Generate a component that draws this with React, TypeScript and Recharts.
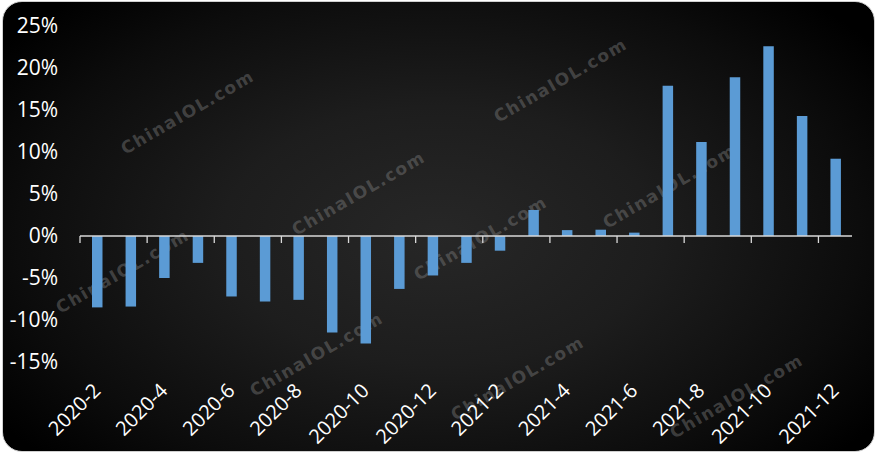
import React from 'react';
import { BarChart, Bar, XAxis, YAxis, ReferenceLine } from 'recharts';

const months = [
  '2020-2', '2020-3', '2020-4', '2020-5', '2020-6', '2020-7', '2020-8', '2020-9', '2020-10', '2020-11', '2020-12',
  '2021-1', '2021-2', '2021-3', '2021-4', '2021-5', '2021-6', '2021-7', '2021-8', '2021-9', '2021-10', '2021-11', '2021-12',
];
const growth = [
  -8.5, -8.4, -5.0, -3.2, -7.2, -7.8, -7.6, -11.5, -12.8, -6.3, -4.7,
  -3.2, -1.75, 3.1, 0.7, 0.75, 0.4, 17.9, 11.2, 18.9, 22.6, 14.3, 9.2,
];
const yTicks = [-15, -10, -5, 0, 5, 10, 15, 20, 25];
const watermarkText = 'ChinaIOL.com';
const watermarkSpots: [number, number][] = [
  [188, 113], [561, 81], [359, 194], [481, 239], [670, 187],
  [123, 272], [317, 355], [518, 379], [737, 397],
];

const data = months.map((m, i) => ({ month: m, value: growth[i] }));

const W = 877;
const H = 455;
const MARGIN = { top: 26, right: 25, bottom: 0, left: 0 };
const Y_AXIS_W = 80;
const X_AXIS_H = 93;
const Y_MIN = -15;
const Y_MAX = 25;
const PLOT_W = W - MARGIN.left - MARGIN.right - Y_AXIS_W;
const PLOT_H = H - MARGIN.top - MARGIN.bottom - X_AXIS_H;
const BAND = PLOT_W / months.length;
const ZERO_Y = MARGIN.top + (PLOT_H * (Y_MAX - 0)) / (Y_MAX - Y_MIN);
const FONT = "'Open Sans', 'Noto Sans', sans-serif";

const XTick = (props: any) => {
  const { x, y, payload } = props;
  const bx = x - BAND / 2;
  return (
    <g>
      <line x1={bx} y1={ZERO_Y} x2={bx} y2={ZERO_Y + 7} stroke="#d9d9d9" strokeWidth={1.3} />
      <text
        x={x + 5}
        y={y + 30}
        transform={`rotate(-45, ${x + 5}, ${y + 30})`}
        textAnchor="end"
        fill="#ffffff"
        fontSize={20}
        fontFamily={FONT}
      >
        {payload.value}
      </text>
    </g>
  );
};

export default function App() {
  return (
    <div style={{ position: 'fixed', left: 0, top: 0, width: W, height: H, background: '#ffffff' }}>
      <div
        style={{
          position: 'absolute',
          left: 2,
          top: 1,
          width: 873,
          height: 451,
          boxSizing: 'border-box',
          border: '1.5px solid #cfcfcf',
          borderRadius: 20,
          background:
            'radial-gradient(ellipse 62% 72% at 50% 52%, #272727 0%, #1d1d1d 40%, #0c0c0c 78%, #000000 100%)',
        }}
      />
      <svg width={W} height={H} style={{ position: 'absolute', left: 0, top: 0 }}>
        {watermarkSpots.map(([cx, cy], i) => (
          <text
            key={i}
            x={cx}
            y={cy}
            transform={`rotate(-30, ${cx}, ${cy})`}
            textAnchor="middle"
            dominantBaseline="middle"
            fill="#8a8a8a"
            fillOpacity={0.4}
            fontSize={17}
            fontWeight="bold"
            letterSpacing={1.6}
            fontFamily="'DejaVu Sans', sans-serif"
          >
            {watermarkText}
          </text>
        ))}
      </svg>
      <div style={{ position: 'absolute', left: 0, top: 0 }}>
        <BarChart width={W} height={H} data={data} margin={MARGIN}>
          <XAxis
            dataKey="month"
            height={X_AXIS_H}
            interval={1}
            axisLine={false}
            tickLine={false}
            tickSize={0}
            tickMargin={0}
            tick={<XTick />}
          />
          <YAxis
            width={Y_AXIS_W}
            domain={[Y_MIN, Y_MAX]}
            ticks={yTicks}
            interval={0}
            axisLine={false}
            tickLine={false}
            tickSize={6}
            tickMargin={16}
            tickFormatter={(v: number) => `${v}%`}
            tick={{ fill: '#ffffff', fontSize: 21, fontFamily: FONT }}
          />
          <Bar dataKey="value" fill="#5b9bd5" barSize={10.5} isAnimationActive={false} />
          <ReferenceLine y={0} stroke="#d9d9d9" strokeWidth={1.5} />
        </BarChart>
      </div>
    </div>
  );
}
